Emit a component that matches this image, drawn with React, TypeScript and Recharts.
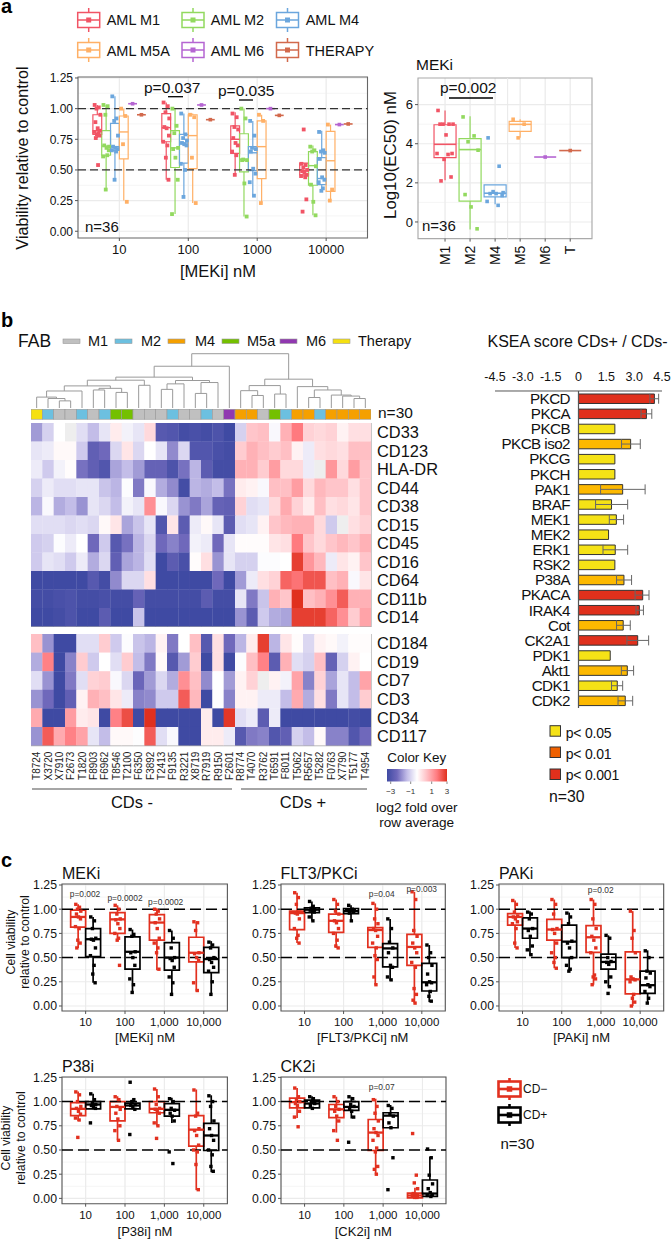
import React from "react";
import { ScatterChart, Scatter, XAxis, YAxis, CartesianGrid, ReferenceLine, ReferenceArea, BarChart, Bar, Cell, ErrorBar } from "recharts";

const FONT = "'Liberation Sans', Arial, sans-serif";
const jitter = [-0.35, 0.2, -0.1, 0.4, -0.25, 0.05, 0.35, -0.4, 0.15, -0.05, 0.3, -0.2, 0.1];

// ---------- Panel a ----------
const doseLabels = ["10", "100", "1000", "10000"];
const doseTicksA = [1, 2, 3, 4];
const violinColors = { M1: "#f15465", M2: "#92d95f", M4: "#6ba6dd", M5A: "#ffb066", M6: "#b565d2", THERAPY: "#d2694c" };
// [q1, median, q3, lowWhisker, highWhisker] per dose
const aM1Box = [[0.79, 0.82, 0.95, 0.76, 1.03], [0.73, 0.845, 0.96, 0.42, 1.05], [0.635, 0.75, 0.86, 0.46, 0.97], [0.46, 0.495, 0.555, 0.44, 0.555]];
const aM2Box = [[0.62, 0.695, 0.82, 0.34, 1.03], [0.52, 0.68, 0.82, 0.14, 1.0], [0.485, 0.585, 0.795, 0.12, 1.0], [0.375, 0.535, 0.65, 0.13, 0.7]];
const aM4Box = [[0.66, 0.69, 0.88, 0.42, 1.1], [0.555, 0.72, 0.79, 0.28, 0.96], [0.495, 0.64, 0.69, 0.29, 0.9], [0.38, 0.43, 0.6, 0.33, 0.82]];
const aM5Box = [[0.59, 0.81, 0.94, 0.25, 1.0], [0.51, 0.78, 0.95, 0.23, 0.96], [0.43, 0.69, 0.9, 0.23, 0.95], [0.325, 0.575, 0.815, 0.25, 0.87]];
const aM6Vals = [1.04, 1.03, 1.0, 0.87];
const aTherapyVals = [0.95, 0.91, 0.945, 0.875];
const aM1Pts = [[1.03, 1.01, 1.0, 0.95, 0.89, 0.84, 0.82, 0.81, 0.8, 0.79, 0.78, 0.76, 0.54], [1.05, 1.02, 0.97, 0.92, 0.85, 0.84, 0.78, 0.73, 0.7, 0.6, 0.42], [0.96, 0.93, 0.85, 0.83, 0.76, 0.72, 0.7, 0.65, 0.62, 0.46], [0.55, 0.54, 0.52, 0.5, 0.49, 0.48, 0.46, 0.45, 0.44, 0.83, 0.26, 0.16]];
const aM2Pts = [[1.03, 1.02, 0.95, 0.69, 0.7, 0.68, 0.66, 0.61, 0.62, 0.34], [1.0, 0.86, 0.8, 0.68, 0.67, 0.6, 0.42, 0.14], [1.0, 0.92, 0.585, 0.58, 0.58, 0.39, 0.12], [0.69, 0.66, 0.65, 0.53, 0.38, 0.24, 0.13]];
const aM4Pts = [[1.1, 0.92, 0.9, 0.78, 0.69, 0.68, 0.67, 0.66, 0.65, 0.42], [0.96, 0.79, 0.76, 0.74, 0.72, 0.71, 0.7, 0.55, 0.5, 0.28], [0.9, 0.78, 0.68, 0.67, 0.65, 0.51, 0.47, 0.4, 0.29], [0.81, 0.66, 0.65, 0.64, 0.59, 0.44, 0.42, 0.4, 0.35, 0.33]];
const aM5Pts = [[1.0, 0.94, 0.71, 0.24], [0.95, 0.93, 0.6, 0.23], [0.95, 0.9, 0.23], [0.87, 0.34, 0.25]];

// EC50
const ecCategories = ["M1", "M2", "M4", "M5", "M6", "T"];
const ecColors = ["#f15465", "#92d95f", "#6ba6dd", "#ffb066", "#b565d2", "#d2694c"];
const ecBoxes = [[3.29, 3.97, 4.97, 2.13, 5.7], [1.07, 3.7, 4.26, -0.39, 5.4], [1.28, 1.47, 1.9, 0.9, 1.9], [4.63, 4.99, 5.14, 4.3, 5.25], [3.32, 3.32, 3.32, 3.32, 3.32], [3.65, 3.65, 3.65, 3.65, 3.65]];
const ecPts = [[5.7, 5.0, 5.0, 5.0, 5.0, 4.45, 3.5, 3.5, 3.45, 3.2, 2.3, 2.1], [5.37, 4.4, 4.1, 3.67, 1.4, 0.77, -0.35], [4.3, 2.85, 1.55, 1.5, 1.45, 1.45, 1.35, 1.05, 0.85], [5.25, 5.0, 4.3], [3.32], [3.65]];

// ---------- Panel b heatmap ----------
const fabColors = { G: "#c0c0c0", B: "#6cc0e0", O: "#f5a000", L: "#74c000", P: "#9038b0", Y: "#f5e010" };
const fabLegend = [["M1", "G"], ["M2", "B"], ["M4", "O"], ["M5a", "L"], ["M6", "P"], ["Therapy", "Y"]];
const fabStrip = ["Y","B","G","G","B","G","B","L","L","G","G","G","B","G","G","B","G","P","O","O","G","L","B","O","O","B","O","O","O","O"];
const sampleIds = ["T8724","X3720","X7910","F2673","T1820","F8903","F6962","T8546","T2100","F6350","F3892","T2413","F9135","R3221","X8719","R7919","R9150","F2601","R8774","T4070","R3762","T6591","F8011","T5062","R5657","T5282","F0763","X7790","T5177","T4954"];
const topRows = ["CD33","CD123","HLA-DR","CD44","CD38","CD15","CD45","CD16","CD64","CD11b","CD14"];
const topVals = [
[-1.4,-.7,0,null,-.5,-1,-.4,.3,-.2,-.4,.6,-2.5,-2.6,-2.9,-2.8,-2.9,-2.7,-3,-.7,.9,1,-.1,1.2,2,.7,.6,.7,.2,.5,.5],
[-.4,-.3,.1,.1,-.8,-2.3,-2,-.6,.4,-.6,0,-.4,-1.6,-.6,-2.6,-2.6,-2.8,-2.9,.8,1.2,1,.8,1,.2,-.3,.5,.6,.5,1,1],
[-.3,-.8,-.2,.05,-1.9,-2.3,-2.6,-1.3,-1,-1.4,-2.2,-2.2,-2.7,-1.9,-1.1,-2.4,-2.9,-2.9,1.2,1.2,.8,1.5,.6,.6,-.3,null,1.6,.6,1.5,.9],
[-.7,-.3,-.5,-.5,-.4,-.4,-.9,-1.1,-.05,-1.8,-.1,-1.2,-1.6,-2.9,-1.1,-1.2,-1,-1.9,.3,.2,-.1,1,1,1.5,.6,1.1,.9,.9,.5,.9],
[-1.1,-.1,-1.2,-1,-1.5,-.4,-.6,-1,-.2,-.4,1.7,-.1,-.6,-1.5,-1.8,-1.3,-2.2,-2.3,.7,-.5,-.4,.6,1.3,.7,.3,1,.5,.6,.4,.9],
[-.5,-.5,-.5,-.6,-.5,-.6,.1,.4,-1.3,-.9,-.4,-2.6,.4,-2.4,-.3,.1,-.4,-2.4,-.5,-.4,.2,.9,1.1,1.2,1.2,.6,-.8,null,.5,.7],
[-.8,-.7,-.05,-.3,0,-2,-.8,-2.5,-1.9,-1.1,-.6,-2,-1.7,-2,-.2,-.3,-2,-.4,.05,.05,.05,.4,.5,2,.9,.6,.9,1.1,.9,1.2],
[-.8,-.4,-.5,-.8,-.3,-1.2,-.6,-2.3,-1.3,-1.1,-.5,-3,-2.4,-2.8,.05,.5,-1.5,-.4,-.7,-.7,-.05,-.05,0,2.8,1.6,1.1,-.3,.4,.2,.9],
[-3,-3,-3,-3,-3,-2.5,-2.9,-1.6,-.6,-.6,.5,-3,-3,-3,-3,-3,-2,-3,-1.4,-.3,.5,.7,2.3,2.1,2.5,2.5,1,1.2,-.1,.4],
[-2.9,-2.9,-2.8,-2.7,-2.9,-2.9,-2.8,-2.9,-2.9,-2.2,-2.9,-2.9,-2.9,-2.9,-2.9,-2.4,-2.9,-2.9,-.4,-1.8,-.9,1.2,.9,3.2,1,1.2,1.7,2.4,1.2,1.2],
[-3,-3,-2.9,-2.7,-3,-3,-2.4,-3,-3,-.9,-3,-3,-3,-3,-3,-3,-3,-3,-1.5,-2.4,-.8,-1.2,-1.3,2.8,2.8,2.8,2.3,1.7,.8,1.4],
];
const bottomRows = ["CD184","CD19","CD7","CD3","CD34","CD117"];
const bottomVals = [
[1,-1.5,-3,-3,-.5,-.5,.8,-.8,-.05,-.9,-1.1,.2,-1.8,0,1,-2.5,.5,-2,-1.1,.3,2.8,-1.1,.4,.05,-.6,.2,.1,-.2,.05,.05],
[-1.2,1.9,-3,-1.7,.8,-.8,0,-.5,.8,-1,-1.8,.1,-2.5,-1.4,.8,-3,.5,-3,-.05,1,1.9,-2.4,1.2,-.5,-.7,1,-2.2,-.7,.2,0],
[-.5,-1.5,-3,-1.8,-.5,.7,.8,-.1,-.6,-2.1,-1.4,-.6,-1.2,1.7,1,-1.6,-.02,-1.4,.2,.7,null,.2,-.2,1.4,-1.7,.7,-1.3,-.4,-1,1.4],
[-1.5,-2,-3,-2.3,.2,1.2,1,.4,-.3,-1.7,-1.6,-.8,-.8,2.4,1.1,-3,-.03,-1.7,.2,.2,-.3,-.3,-1,1.3,-1.2,.5,-1.8,-.4,-1,.8],
[1.3,-3,-3,1.5,.3,.4,-3,1.9,2.6,-3,3,-3,-3,-3,-3,.3,-3,2.9,-.5,-.3,-2.4,-.3,-3,-3,-3,-3,-3,-3,-2.9,-3],
[-1.5,2.4,1.3,1.9,1.4,-.4,-1,.1,.1,-.03,2.4,-.5,-.1,-3,-3,.3,.3,-.3,-2.5,-1.8,-1.7,-2.6,-2.3,-.7,-1,.1,-1.7,-1.7,-2.6,-2],
];
const colorStops: [number, number[]][] = [[-3,[63,74,163]],[-2,[111,104,187]],[-1,[195,189,232]],[0,[255,255,255]],[1,[255,191,196]],[2,[255,122,127]],[3,[224,48,30]]];
function heatColor(v: number | null) {
  if (v === null) return "#eeeeee";
  const c = Math.max(-3, Math.min(3, v));
  for (let i = 0; i < colorStops.length - 1; i++) {
    const [a, ca] = colorStops[i]; const [b, cb] = colorStops[i + 1];
    if (c <= b) { const t = (c - a) / (b - a); return `rgb(${ca.map((x, k) => Math.round(x + (cb[k] - x) * t)).join(",")})`; }
  }
  return "#e0301e";
}
// dendrogram: [left, right, height]; numbers are sample columns
const dendroLeft = [[[1,[2,[3,4,7],9.3],10.7],5,16.7],[[6,7,17.7],[8,9,15.3],19.3],21.7];
const dendroMidA = [dendroLeft, [10,11,22.3], 27.3];
const dendroMidB = [[[12,13,18.3],14,23.7],[[15,16,14.3],17,25],27];
const dendroRightA = [[19,[20,21,12.3],17],[22,23,13.7],22];
const dendroRightB = [24,[[25,26,10.3],[27,[28,[29,30,9.3],11.7],12.7],17.7],21];
const dendroRoot = [[[dendroMidA, dendroMidB, 30.3],18,41],[dendroRightA, dendroRightB, 28.3],53.3];

// ---------- Panel b KSEA ----------
const kinases = ["PKCD","PKCA","PKCB","PKCB iso2","PKCG","PKCH","PAK1","BRAF","MEK1","MEK2","ERK1","RSK2","P38A","PKACA","IRAK4","Cot","CK2A1","PDK1","Akt1","CDK1","CDK2"];
const kseaScores = [4.09,3.66,1.96,2.81,1.96,1.96,2.38,1.78,2.04,1.62,1.98,1.96,2.45,3.46,3.28,2.41,3.19,1.71,2.63,2.09,2.52];
const kseaLow = [3.85,3.37,null,2.32,null,null,1.19,.92,1.66,null,1.32,null,2.05,3.05,3.1,2.05,2.61,null,2.31,1.78,2.13];
const kseaHigh = [4.32,3.95,null,3.33,null,null,3.59,2.65,2.43,null,2.65,null,2.86,3.8,3.5,2.79,3.78,null,2.97,2.38,2.92];
const kseaSig = ["R","R","Y","O","Y","Y","O","Y","Y","Y","Y","Y","O","R","R","O","R","Y","O","Y","O"];
const sigColors = { R: "#e0301c", O: "#fdb900", Y: "#f5e216" };
const kseaTicks = [-4.5,-3,-1.5,0,1.5,3,4.5];
const kseaTickLabels = ["-4.5","-3.0","-1.5","0","1.5","3.0","4.5"];

// ---------- Panel c ----------
const RED = "#e2301f"; const BLACK = "#000000";
const cDoseLabels = ["10","100","1,000","10,000"];
const mekiRedBox = [[.815,.92,.99,.6,1.05],[.75,.895,.965,.67,1.04],[.68,.862,.945,.37,1.01],[.455,.55,.71,.15,.87]];
const mekiBlackBox = [[.51,.69,.8,.24,.92],[.38,.56,.715,.13,.79],[.37,.5,.655,.11,.78],[.345,.485,.605,.12,.67]];
const mekiRedPts = [[1.05,1.02,1,.98,.95,.92,.9,.82,.8,.68,.65,.6],[1.04,1,.95,.9,.89,.85,.8,.75,.7,.68,.42],[1,.98,.95,.9,.86,.8,.7,.65,.6,.55,.38],[.87,.86,.78,.55,.54,.5,.47,.24,.16]];
const mekiBlackPts = [[.92,.88,.8,.7,.69,.68,.6,.52,.42,.33,.24],[.79,.74,.72,.56,.55,.5,.42,.28,.22,.14],[.78,.7,.6,.5,.49,.47,.4,.3,.24,.12],[.66,.63,.6,.5,.48,.45,.4,.36,.25,.12]];
const fltRedBox = [[.79,.96,.98,.65,1.17],[.76,.88,.95,.6,1.1],[.605,.785,.81,.22,1.06],[.42,.61,.74,.03,1.18]];
const fltBlackBox = [[.965,.995,1.015,.88,1.08],[.955,.98,1.007,.87,1.04],[.405,.595,.645,.26,.9],[.155,.245,.44,.04,.63]];
const fltRedPts = [[1.17,1.12,1.05,.97,.96,.95,.9,.8,.73,.7,.65],[1.1,1.05,.98,.95,.88,.86,.8,.75,.68,.62,.6],[1.06,1,.9,.85,.8,.78,.72,.65,.6,.52,.48,.3,.22],[1.18,1.1,.78,.72,.65,.6,.55,.45,.4,.18,.12,.06,.03]];
const fltBlackPts = [[1.08,1.03,1.01,1,.99,.98,.97,.92,.88],[1.04,1,.98,.97,.96,.88],[.9,.8,.66,.6,.55,.42,.4,.3,.27],[.63,.55,.5,.42,.33,.25,.24,.22,.15,.1,.05]];
const pakRedBox = [[.835,.92,.955,.6,1.09],[.68,.79,.895,.39,1.1],[.555,.71,.83,.22,1.1],[.125,.275,.56,0,.98]];
const pakBlackBox = [[.7,.8,.91,.52,.98],[.5,.665,.835,.355,.965],[.38,.455,.535,.2,.73],[.13,.215,.36,.03,.575]];
const pakRedPts = [[1.09,1.05,.97,.93,.92,.9,.87,.85,.8,.65,.6],[1.1,1.05,.95,.8,.79,.75,.65,.55,.5,.45,.39],[1.1,1.05,.9,.8,.72,.68,.6,.55,.32,.3,.28,.22],[.98,.78,.7,.55,.3,.28,.27,.25,.12,.08,.04,0]];
const pakBlackPts = [[.97,.95,.9,.8,.78,.72,.62,.58,.53],[.96,.92,.85,.67,.65,.6,.5,.42,.38,.36],[.73,.7,.5,.46,.45,.43,.3,.25,.2,.13],[.57,.5,.36,.34,.29,.22,.2,.15,.08,.03]];
const p38RedBox = [[.855,.925,.99,.8,1.105],[.8,.945,1,.6,1.055],[.885,.925,1,.75,1.13],[.54,.71,.855,.085,1.125]];
const p38BlackBox = [[.925,.97,1,.92,1.08],[.925,.96,.985,.92,1.02],[.85,.915,.98,.78,1.04],[.495,.65,.775,.27,1.065]];
const p38RedPts = [[1.1,1.07,1,.95,.93,.9,.87,.83,.81,.63],[1.05,1.02,.95,.92,.88,.82,.75,.7,.6],[1.13,1.05,.97,.93,.92,.9,.88,.78,.75,.62],[1.12,.88,.85,.72,.7,.65,.55,.5,.48,.35,.09]];
const p38BlackPts = [[1.08,1.02,.99,.97,.96,.95,.93,.78],[1.2,1.02,1,.97,.96,.94,.92,.66],[1.03,1,.93,.91,.88,.85,.8,.48,.36],[1.06,1,.95,.8,.72,.65,.6,.5,.45,.33,.28]];
const ck2RedBox = [[.935,.995,1.035,.83,1.14],[.835,.92,.97,.68,1.05],[.495,.68,.815,.25,1.03],[.005,.03,.055,.005,.11]];
const ck2BlackBox = [[.935,.98,1.015,.92,1.055],[.91,.945,1,.825,1.05],[.73,.855,.885,.73,.965],[.02,.05,.19,.02,.43]];
const ck2RedPts = [[1.14,1.05,1.02,1,.98,.96,.9,.84,.74],[1.05,1,.95,.92,.9,.85,.8,.7,.6],[1.02,.95,.88,.8,.72,.68,.65,.6,.52,.48,.33,.3,.25],[.67,.24,.16,.1,.05,.04,.03,.03,.02,.01,.01]];
const ck2BlackPts = [[1.05,1.03,1,.98,.96,.93],[1.05,1.03,.97,.95,.93,.9,.84,.58],[.96,.93,.87,.85,.78,.73,.42,.09],[.51,.42,.24,.15,.1,.06,.04,.03,.02]];

// ---------- helpers ----------
const square = (size: number, fill: string) => (p: any) => <rect x={p.cx - size / 2} y={p.cy - size / 2} width={size} height={size} fill={fill} />;

function Box({ x, w, s, color, sw = 1.2, msw = 1.6 }: any) {
  const [q1, med, q3, lo, hi] = s;
  return (
    <>
      {hi > q3 && <ReferenceLine segment={[{ x, y: q3 }, { x, y: hi }]} stroke={color} strokeWidth={sw} />}
      {lo < q1 && <ReferenceLine segment={[{ x, y: q1 }, { x, y: lo }]} stroke={color} strokeWidth={sw} />}
      {q3 > q1 && <ReferenceArea x1={x - w / 2} x2={x + w / 2} y1={q1} y2={q3} fill="none" fillOpacity={0} stroke={color} strokeOpacity={1} strokeWidth={sw} />}
      <ReferenceLine segment={[{ x: x - w / 2, y: med }, { x: x + w / 2, y: med }]} stroke={color} strokeWidth={msw} />
    </>
  );
}

function Plot({ rect, xDom, yDom, xTicks, yTicks, xFmt, yMinor, xTick, yFont = 12, xFont = 12, xHeight = 30, frame = "#666", children }: any) {
  const { l, t, r, b } = rect;
  return (
    <div style={{ position: "absolute", left: l - 50, top: t - 5 }}>
      <ScatterChart width={r - l + 60} height={b - t + 5 + xHeight} margin={{ top: 5, right: 10, bottom: 0, left: 0 }}>
        <CartesianGrid stroke="#f3f3f3" strokeWidth={0.8} horizontalValues={yMinor} verticalValues={[]} />
        <CartesianGrid stroke="#ebebeb" strokeWidth={1.1} horizontalValues={yTicks} verticalValues={xTicks} />
        <XAxis type="number" dataKey="x" domain={xDom} allowDataOverflow ticks={xTicks} interval={0} tickFormatter={xFmt} tick={xTick || { fontSize: xFont, fill: "#111", fontFamily: FONT }} tickSize={3} tickMargin={4} height={xHeight} axisLine={false} stroke="#555" />
        <YAxis type="number" dataKey="y" domain={yDom} allowDataOverflow ticks={yTicks} interval={0} tick={{ fontSize: yFont, fill: "#111", fontFamily: FONT }} tickSize={3} tickMargin={2} width={50} axisLine={false} stroke="#555" tickFormatter={(v: number) => (yTicks.length > 4 ? v.toFixed(2) : String(v))} />
        {children}
        <ReferenceArea x1={xDom[0]} x2={xDom[1]} y1={yDom[0]} y2={yDom[1]} fill="none" fillOpacity={0} stroke={frame} strokeOpacity={1} strokeWidth={1.1} ifOverflow="visible" />
      </ScatterChart>
    </div>
  );
}

const dosePts = (vals: number[][], off: number, spread: number) => vals.flatMap((g, i) => g.map((y, k) => ({ x: i + 1 + off + jitter[k % jitter.length] * spread, y })));

// ---------- Panel a charts ----------
const aGroups = [
  { box: aM1Box, pts: aM1Pts, c: violinColors.M1, off: -2.5 },
  { box: aM2Box, pts: aM2Pts, c: violinColors.M2, off: -1.5 },
  { box: aM4Box, pts: aM4Pts, c: violinColors.M4, off: -0.5 },
  { box: aM5Box, pts: aM5Pts, c: violinColors.M5A, off: 0.5 },
];
const aSingles = [
  { vals: aM6Vals, c: violinColors.M6, off: 1.5 },
  { vals: aTherapyVals, c: violinColors.THERAPY, off: 2.5 },
];
const ADODGE = 0.128;

function ViabilityByFab() {
  const yT = [0, 0.25, 0.5, 0.75, 1, 1.25];
  return (
    <Plot rect={{ l: 77.5, t: 77, r: 367, b: 238 }} xDom={[0.4, 4.6]} yDom={[-0.055, 1.258]} xTicks={doseTicksA} yTicks={yT} yMinor={[0.125, 0.375, 0.625, 0.875, 1.125]} xFmt={(v: number) => doseLabels[v - 1]} xFont={13}>
      {aGroups.map((g, gi) => g.box.map((s, i) => <Box key={gi + "-" + i} x={i + 1 + g.off * ADODGE} w={ADODGE} s={s} color={g.c} sw={1.2} msw={1.4} />))}
      {aSingles.map((g, gi) => g.vals.map((v, i) => <ReferenceLine key={gi + "s" + i} segment={[{ x: i + 1 + (g.off - 0.5) * ADODGE, y: v }, { x: i + 1 + (g.off + 0.5) * ADODGE, y: v }]} stroke={g.c} strokeWidth={1.6} />))}
      <ReferenceLine y={1} stroke="#333" strokeWidth={1.3} strokeDasharray="8 4" />
      <ReferenceLine y={0.5} stroke="#333" strokeWidth={1.3} strokeDasharray="8 4" />
      {aGroups.map((g, gi) => <Scatter key={gi} data={dosePts(g.pts, g.off * ADODGE, 0.11)} shape={square(3.8, g.c)} isAnimationActive={false} />)}
      {aSingles.map((g, gi) => <Scatter key={"s" + gi} data={g.vals.map((y, i) => ({ x: i + 1 + g.off * ADODGE, y }))} shape={square(3.6, g.c)} isAnimationActive={false} />)}
    </Plot>
  );
}

const rotTick = (fontSize: number, labels: string[], top: number, first = 1) => (p: any) => (
  <text transform={`translate(${p.x},${p.y + top}) rotate(-90)`} textAnchor="end" dominantBaseline="central" fontSize={fontSize} fontFamily={FONT} fill="#111">{labels[p.payload.value - first]}</text>
);

function EcPlot() {
  return (
    <Plot rect={{ l: 417.7, t: 77.7, r: 591.7, b: 238.3 }} xDom={[-0.08, 6.87]} yDom={[-0.85, 7.36]} xTicks={[1, 2, 3, 4, 5, 6]} yTicks={[0, 2, 4, 6]} yMinor={[1, 3, 5]} xTick={rotTick(14, ecCategories, 0)} xHeight={40} yFont={13} frame="#aaa">
      <ReferenceLine x={3.5} stroke="#e8e8e8" />
      {ecBoxes.map((s, i) => <Box key={i} x={i + 1} w={0.88} s={s} color={ecColors[i]} sw={1.2} msw={1.6} />)}
      {ecPts.map((g, i) => <Scatter key={i} data={g.map((y, k) => ({ x: i + 1 + (g.length > 1 ? jitter[k % jitter.length] * 0.8 : 0), y }))} shape={square(3.6, ecColors[i])} isAnimationActive={false} />)}
    </Plot>
  );
}

// ---------- Panel b charts ----------
const HL = 31; const HR = 371; const cellW = (HR - HL) / 30;
function heatData(rows: (number | null)[][]) {
  return rows.flatMap((row, r) => row.map((v, c) => ({ x: c + 0.5, y: r + 0.5, v })));
}
function Heatmap({ top, rows, names, vals, bottomLabels, divider }: any) {
  const h = rows * (top === 423 ? 18.5 : 18.6);
  const cellH = h / rows;
  return (
    <div style={{ position: "absolute", left: HL, top }}>
      <ScatterChart width={HR - HL + 80} height={h + (bottomLabels ? 42 : 0)} margin={{ top: 0, right: 0, bottom: 0, left: 0 }}>
        <XAxis type="number" dataKey="x" domain={[0, 30]} allowDataOverflow hide={!bottomLabels} ticks={sampleIds.map((_: string, i: number) => i + 0.5)} interval={0} tick={bottomLabels ? (p: any) => <text transform={`translate(${p.x},${p.y + 6}) rotate(-90)`} textAnchor="end" dominantBaseline="central" fontSize={10} fontFamily={FONT} fill="#222">{sampleIds[Math.floor(p.payload.value)]}</text> : false} tickLine={false} tickSize={0} tickMargin={0} axisLine={false} height={42} />
        <YAxis type="number" dataKey="y" reversed orientation="right" domain={[0, rows]} allowDataOverflow ticks={names.map((_: string, i: number) => i + 0.5)} interval={0} tickFormatter={(v: number) => names[Math.floor(v)]} tick={{ fontSize: 16.4, fill: "#111", fontFamily: FONT }} tickLine={false} tickSize={0} axisLine={false} tickMargin={6} width={80} />
        <Scatter data={heatData(vals)} isAnimationActive={false} shape={(p: any) => <rect x={p.cx - cellW / 2} y={p.cy - cellH / 2} width={cellW + 0.3} height={cellH + 0.3} fill={heatColor(p.payload.v)} />} />
        {divider && <ReferenceLine x={18} stroke="#777" strokeWidth={0.7} />}
        <ReferenceArea x1={0} x2={30} y1={0} y2={rows} fill="none" fillOpacity={0} stroke="#aaa" strokeOpacity={1} strokeWidth={1.3} ifOverflow="visible" />
      </ScatterChart>
    </div>
  );
}

function FabStrip() {
  return (
    <div style={{ position: "absolute", left: HL, top: 409 }}>
      <ScatterChart width={HR - HL} height={10.5} margin={{ top: 0, right: 0, bottom: 0, left: 0 }}>
        <XAxis type="number" dataKey="x" domain={[0, 30]} hide />
        <YAxis type="number" dataKey="y" domain={[0, 1]} hide />
        <Scatter data={fabStrip.map((f, i) => ({ x: i + 0.5, y: 0.5, f }))} isAnimationActive={false} shape={(p: any) => <rect x={p.cx - cellW / 2} y={p.cy - 5} width={cellW} height={10} fill={(fabColors as any)[p.payload.f]} stroke="#999" strokeWidth={0.6} />} />
      </ScatterChart>
    </div>
  );
}

function treeSegments(n: any, out: any[]): [number, number] {
  if (typeof n === "number") return [n - 0.5, 0];
  const [lx, lh] = treeSegments(n[0], out);
  const [rx, rh] = treeSegments(n[1], out);
  const h = n[2];
  out.push([{ x: lx, y: lh }, { x: lx, y: h }], [{ x: lx, y: h }, { x: rx, y: h }], [{ x: rx, y: h }, { x: rx, y: rh }]);
  return [(lx + rx) / 2, h];
}
function Dendrogram() {
  const segs: any[] = [];
  treeSegments(dendroRoot, segs);
  return (
    <div style={{ position: "absolute", left: HL, top: 353 }}>
      <ScatterChart width={HR - HL} height={55} margin={{ top: 0, right: 0, bottom: 0, left: 0 }}>
        <XAxis type="number" dataKey="x" domain={[0, 30]} allowDataOverflow hide />
        <YAxis type="number" dataKey="y" domain={[0, 54]} allowDataOverflow hide />
        <Scatter data={segs.flat()} isAnimationActive={false} shape={() => <g />} />
        {segs.map((s, i) => <ReferenceLine key={i} segment={s} stroke="#9a9a9a" strokeWidth={1} ifOverflow="visible" />)}
      </ScatterChart>
    </div>
  );
}

const kseaData = kinases.map((name, i) => ({
  name,
  score: kseaScores[i],
  sig: kseaSig[i],
  err: kseaLow[i] === null ? undefined : [kseaScores[i] - (kseaLow[i] as number), (kseaHigh[i] as number) - kseaScores[i]],
}));
function Ksea() {
  return (
    <div style={{ position: "absolute", left: 395, top: 361 }}>
      <BarChart layout="vertical" width={277} height={347.2} data={kseaData} margin={{ top: 0, right: 10, bottom: 0, left: 0 }} barCategoryGap={0}>
        <XAxis type="number" orientation="top" domain={[-4.5, 4.5]} ticks={kseaTicks} interval={0} tickFormatter={(v: number) => kseaTickLabels[kseaTicks.indexOf(v)]} tick={{ fontSize: 12.5, fill: "#111", fontFamily: FONT }} tickLine={false} axisLine={{ stroke: "#555" }} tickMargin={4} height={30} allowDataOverflow />
        <YAxis type="category" dataKey="name" width={100} axisLine={false} tickLine={false} interval={0} tick={(p: any) => <text x={175} y={p.y} textAnchor="end" dominantBaseline="central" fontSize={15.2} letterSpacing={-0.55} fontFamily={FONT} fill="#111">{p.payload.value}</text>} />
        <ReferenceLine x={0} stroke="#555" strokeWidth={1.2} />
        <Bar dataKey="score" barSize={9.5} stroke="#333" strokeWidth={1} isAnimationActive={false}>
          {kseaData.map((d, i) => <Cell key={i} fill={(sigColors as any)[d.sig]} />)}
          <ErrorBar dataKey="err" direction="x" width={5} stroke="#666" strokeWidth={1} isAnimationActive={false} />
        </Bar>
      </BarChart>
    </div>
  );
}

// ---------- Panel c charts ----------
const CDODGE = 0.19;
function Facet({ rect, y0, redBox, blackBox, redPts, blackPts }: any) {
  const { t, b } = rect;
  const scale = 96.8;
  const yDom = [-(b - y0) / scale, (y0 - t) / scale];
  return (
    <Plot rect={rect} xDom={[0.4, 4.6]} yDom={yDom} xTicks={[1, 2, 3, 4]} yTicks={[0, 0.25, 0.5, 0.75, 1, 1.25]} yMinor={[0.125, 0.375, 0.625, 0.875, 1.125]} xFmt={(v: number) => cDoseLabels[v - 1]} xFont={11.5} yFont={12.3} frame="#555">
      {redBox.map((s: number[], i: number) => <Box key={"r" + i} x={i + 1 - CDODGE} w={0.38} s={s} color={RED} sw={1.7} msw={2.3} />)}
      {blackBox.map((s: number[], i: number) => <Box key={"b" + i} x={i + 1 + CDODGE} w={0.38} s={s} color={BLACK} sw={1.7} msw={2.3} />)}
      <ReferenceLine y={1} stroke="#000" strokeWidth={1.5} strokeDasharray="11 5" />
      <ReferenceLine y={0.5} stroke="#000" strokeWidth={1.5} strokeDasharray="11 5" />
      <Scatter data={dosePts(redPts, -CDODGE, 0.17)} shape={square(3.4, RED)} isAnimationActive={false} />
      <Scatter data={dosePts(blackPts, CDODGE, 0.17)} shape={square(3.4, BLACK)} isAnimationActive={false} />
    </Plot>
  );
}

// ---------- text overlay ----------
function T({ x, y, s = 14, a = "start", w, rot, fill = "#111", children, ls }: any) {
  return <text x={rot ? 0 : x} y={rot ? 0 : y} transform={rot ? `translate(${x},${y}) rotate(${rot})` : undefined} fontSize={s} textAnchor={a} fontWeight={w} fill={fill} fontFamily={FONT} letterSpacing={ls}>{children}</text>;
}
function LegendKey({ cx, cy, c, sw = 1.5, hw = 11, hh = 7.5, wh = 12, pt = 5 }: any) {
  return (
    <g>
      <line x1={cx} x2={cx} y1={cy - wh} y2={cy + wh} stroke={c} strokeWidth={sw} />
      <rect x={cx - hw} y={cy - hh} width={hw * 2} height={hh * 2} fill="#fff" stroke={c} strokeWidth={sw} />
      <line x1={cx - hw} x2={cx + hw} y1={cy} y2={cy} stroke={c} strokeWidth={sw} />
      <rect x={cx - pt / 2} y={cy - pt / 2} width={pt} height={pt} fill={c} />
    </g>
  );
}
const aLegend = [
  ["AML M1", violinColors.M1, 88.7, 20, 106.7, 25], ["AML M2", violinColors.M2, 193, 20, 210.7, 25], ["AML M4", violinColors.M4, 287.5, 20, 305.7, 25],
  ["AML M5A", violinColors.M5A, 88.7, 50, 106.7, 55.5], ["AML M6", violinColors.M6, 193, 50, 210.7, 55.5], ["THERAPY", violinColors.THERAPY, 287.5, 50, 305.7, 55.5],
] as const;
const fabKeyX = [63, 115, 168, 222, 280, 333];
const fabTextX = [88, 141, 195, 247, 306, 358];
const sigLegend = [["p< 0.05", "#f5e216", 725.7, 738], ["p< 0.01", "#ef6000", 747, 758.5], ["p< 0.001", "#e0301c", 769, 779.5]] as const;
const keyTicks = [[-3, 390.7], [-1, 410.7], [1, 431.7], [3, 447]] as const;

function Overlay() {
  return (
    <svg width={672} height={1240} style={{ position: "absolute", left: 0, top: 0, pointerEvents: "none" }}>
      <defs>
        <linearGradient id="ck">
          {colorStops.map(([v, c]) => <stop key={v} offset={`${((v + 3) / 6) * 100}%`} stopColor={`rgb(${c.join(",")})`} />)}
        </linearGradient>
      </defs>
      <T x={1} y={13} s={20} w="bold" fill="#000">a</T>
      <T x={1} y={327} s={20} w="bold" fill="#000">b</T>
      <T x={1} y={867} s={20} w="bold" fill="#000">c</T>

      {aLegend.map(([t, c, cx, cy, tx, ty]) => (
        <g key={t}><LegendKey cx={cx} cy={cy} c={c} /><T x={tx} y={ty} s={14.5}>{t}</T></g>
      ))}
      <T x={28} y={158} s={16.2} a="middle" rot={-90}>Viability relative to control</T>
      <T x={218} y={277} s={16.5} a="middle">[MEKi] nM</T>
      <T x={144} y={92.5} s={15.5}>p=0.037</T>
      <line x1={168} x2={183} y1={96.7} y2={96.7} stroke="#000" strokeWidth={1.3} />
      <T x={218} y={96} s={15.5}>p=0.035</T>
      <line x1={239} x2={253} y1={100} y2={100} stroke="#000" strokeWidth={1.3} />
      <T x={85} y={232} s={15}>n=36</T>

      <T x={396} y={155} s={16.8} a="middle" rot={-90}>Log10(EC50) nM</T>
      <T x={416} y={70} s={15.5}>MEKi</T>
      <T x={440} y={92.5} s={15.5}>p=0.002</T>
      <line x1={449} x2={493} y1={98} y2={98} stroke="#000" strokeWidth={1.3} />
      <T x={422} y={231} s={15}>n=36</T>

      <T x={18} y={347} s={17.5}>FAB</T>
      {fabLegend.map(([t, k], i) => (
        <g key={t}>
          <rect x={fabKeyX[i]} y={339} width={17} height={4.5} fill={(fabColors as any)[k]} stroke="#999" strokeWidth={0.6} />
          <T x={fabTextX[i]} y={346} s={14.5}>{t}</T>
        </g>
      ))}
      <T x={378} y={418} s={15.5}>n=30</T>
      <line x1={32} x2={232} y1={789} y2={789} stroke="#888" strokeWidth={1.5} />
      <line x1={241} x2={367} y1={789} y2={789} stroke="#888" strokeWidth={1.5} />
      <T x={132} y={808} s={16.5} a="middle">CDs -</T>
      <T x={303} y={808} s={16.5} a="middle">CDs +</T>

      <T x={416.7} y={761.5} s={13.4} a="middle">Color Key</T>
      <rect x={387} y={769} width={60} height={12.5} fill="url(#ck)" />
      {keyTicks.map(([v, x]) => (
        <g key={v}>
          <line x1={x} x2={x} y1={781.5} y2={784} stroke="#555" strokeWidth={0.7} />
          <T x={x} y={794} s={8} a="middle" fill="#333">{v < 0 ? "\u2212" + Math.abs(v) : String(v)}</T>
        </g>
      ))}
      <T x={416.7} y={811.5} s={13.6} a="middle">log2 fold over</T>
      <T x={416.7} y={827} s={13.6} a="middle">row average</T>

      <T x={487.5} y={347} s={16}>KSEA score CDs+ / CDs-</T>
      {sigLegend.map(([t, c, y, by]) => (
        <g key={t}>
          <rect x={550} y={y} width={10.5} height={10.5} fill={c} stroke="#333" strokeWidth={1} />
          <T x={565.7} y={by} s={14} ls={-0.2}>{t}</T>
        </g>
      ))}
      <T x={549} y={801.5} s={15.8}>n=30</T>

      <T x={62} y={879} s={16}>MEKi</T>
      <T x={280.5} y={879} s={16}>FLT3/PKCi</T>
      <T x={499} y={879} s={16}>PAKi</T>
      <T x={62} y={1071.5} s={16}>P38i</T>
      <T x={280.5} y={1071.5} s={16}>CK2i</T>
      <T x={14.5} y={942} s={12.3} a="middle" rot={-90}>Cell viability</T>
      <T x={29} y={942} s={12.3} a="middle" rot={-90}>relative to control</T>
      <T x={9.5} y={1138} s={12.3} a="middle" rot={-90}>Cell viability</T>
      <T x={24.5} y={1138} s={12.3} a="middle" rot={-90}>relative to control</T>
      <T x={145} y={1042} s={13} a="middle">[MEKi] nM</T>
      <T x={362.7} y={1042} s={13} a="middle">[FLT3/PKCi] nM</T>
      <T x={581.7} y={1042} s={13} a="middle">[PAKi] nM</T>
      <T x={145} y={1236} s={13} a="middle">[P38i] nM</T>
      <T x={363.3} y={1236} s={13} a="middle">[CK2i] nM</T>
      <T x={85} y={897} s={8.4} a="middle" fill="#333">p=0.002</T>
      <T x={125} y={900.5} s={8.4} a="middle" fill="#333">p=0.0002</T>
      <T x={165.7} y={905} s={8.4} a="middle" fill="#333">p=0.0002</T>
      <T x={381.7} y={897} s={8.4} a="middle" fill="#333">p=0.04</T>
      <T x={421.7} y={891.5} s={8.4} a="middle" fill="#333">p=0.003</T>
      <T x={600.7} y={893} s={8.4} a="middle" fill="#333">p=0.02</T>
      <T x={381.7} y={1089.5} s={8.4} a="middle" fill="#333">p=0.07</T>

      <LegendKey cx={509.5} cy={1089} c={RED} sw={2.6} hw={11} hh={7.5} wh={11} pt={5.5} />
      <T x={523} y={1092.5} s={12}>CD−</T>
      <LegendKey cx={509.5} cy={1115} c="#000" sw={2.6} hw={11} hh={7.5} wh={11} pt={5.5} />
      <T x={523} y={1118.5} s={12}>CD+</T>
      <T x={500.5} y={1149} s={15}>n=30</T>
    </svg>
  );
}

export default function App() {
  return (
    <div style={{ position: "absolute", left: 0, top: 0, width: 672, height: 1240, background: "#fff", overflow: "hidden", fontFamily: FONT }}>
      <ViabilityByFab />
      <EcPlot />
      <Dendrogram />
      <FabStrip />
      <Heatmap top={423} rows={11} names={topRows} vals={topVals} divider />
      <Heatmap top={634} rows={6} names={bottomRows} vals={bottomVals} bottomLabels />
      <Ksea />
      <Facet rect={{ l: 62.3, t: 884, r: 227.7, b: 1011 }} y0={1006} redBox={mekiRedBox} blackBox={mekiBlackBox} redPts={mekiRedPts} blackPts={mekiBlackPts} />
      <Facet rect={{ l: 280.7, t: 884, r: 445, b: 1011 }} y0={1006} redBox={fltRedBox} blackBox={fltBlackBox} redPts={fltRedPts} blackPts={fltBlackPts} />
      <Facet rect={{ l: 499.3, t: 884, r: 664, b: 1011 }} y0={1006} redBox={pakRedBox} blackBox={pakBlackBox} redPts={pakRedPts} blackPts={pakBlackPts} />
      <Facet rect={{ l: 62.3, t: 1077.3, r: 227.7, b: 1204 }} y0={1198.7} redBox={p38RedBox} blackBox={p38BlackBox} redPts={p38RedPts} blackPts={p38BlackPts} />
      <Facet rect={{ l: 280.7, t: 1077.3, r: 445.7, b: 1204 }} y0={1198.7} redBox={ck2RedBox} blackBox={ck2BlackBox} redPts={ck2RedPts} blackPts={ck2BlackPts} />
      <Overlay />
    </div>
  );
}
